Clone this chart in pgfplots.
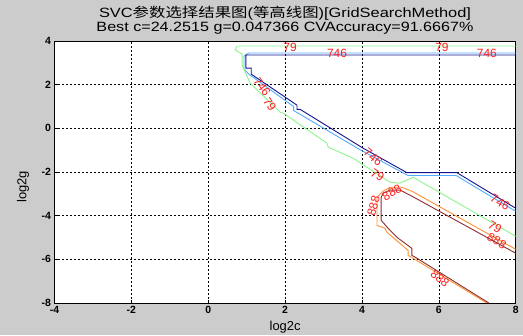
\documentclass[border=0pt]{standalone}
\usepackage{pgfplots}
\pgfplotsset{compat=1.18}
\usepackage{fontspec}
\setmainfont{Liberation Sans}
\newfontfamily\cjk{Noto Sans CJK SC}
\usepackage{graphicx}
\definecolor{figgray}{RGB}{204,204,204}
\definecolor{navyc}{RGB}{20,20,140}
\definecolor{lblue}{RGB}{80,170,255}
\definecolor{lgreen}{RGB}{140,245,140}
\definecolor{orangec}{RGB}{255,145,50}
\definecolor{brownc}{RGB}{140,45,45}
\definecolor{labred}{RGB}{255,30,30}
\begin{document}
\begin{tikzpicture}[x=1bp,y=1bp]
\useasboundingbox (0,0) rectangle (523,335);
\fill[figgray] (0,0) rectangle (523,335);
\node[font=\fontsize{13.5}{15}\selectfont, inner sep=0pt] at (285,322) {\scalebox{1.22}[1]{SVC{\cjk 参数选择结果图}({\cjk 等高线图})[GridSearchMethod]}};
\node[font=\fontsize{13.5}{15}\selectfont, inner sep=0pt] at (285,307) {\scalebox{1.2}[1]{Best c=24.2515 g=0.047366 CVAccuracy=91.6667\%}};
\begin{axis}[
  at={(54.5bp,32bp)}, anchor=south west,
  scale only axis, width=461.2bp, height=262bp,
  xmin=-4, xmax=8, ymin=-8, ymax=4,
  xtick={-4,-2,...,8}, ytick={-8,-6,...,4},
  grid=major,
  grid style={black, dash pattern=on 2pt off 2pt, line width=0.5pt},
  axis line style={black, line width=0.8pt},
  tick align=inside, major tick length=3bp,
  tick style={black, line width=0.6pt},
  axis background/.style={fill=white},
  tick label style={font=\bfseries\fontsize{10.5}{12}\selectfont},
  /pgf/number format/assume math mode=true,
  xlabel={log2c}, ylabel={log2g},
  label style={font=\fontsize{13}{15}\selectfont},
  ylabel style={at={(axis description cs:-0.068,0.443)}, anchor=center},
  xlabel style={at={(axis description cs:0.5,-0.094)}, anchor=center},
  every axis plot/.append style={line width=0.9pt},
  clip=true,
]
% light blue
\addplot[lblue] coordinates {(8,3.45) (1.05,3.45) (0.93,3.30) (0.93,2.70) (1.08,2.45) (2.22,1.0) (2.22,0.82) (3.95,-0.98) (5.2,-2.16) (6.45,-2.16) (8,-3.8)};
% navy
\addplot[navyc] coordinates {(8,3.36) (0.98,3.36) (0.98,2.76) (1.12,2.76) (1.12,2.48) (2.31,1.06) (2.31,0.87) (2.39,0.87) (4.03,-0.91) (5.17,-2.03) (6.47,-2.03) (8,-3.66)};
% green
\addplot[lgreen] coordinates {(8,3.77) (0.75,3.77) (0.70,3.59) (0.88,3.40) (0.88,2.90) (1.09,2.07) (1.87,0.74) (1.95,0.70) (3.09,-0.68) (3.12,-0.86) (3.77,-1.37) (4.73,-2.47) (4.99,-2.51) (5.33,-2.24) (8,-4.94)};
% orange
\addplot[orangec] coordinates {(8,-5.54) (5.30,-2.88) (5.04,-2.70) (4.73,-2.70) (4.55,-2.88) (4.39,-3.16) (4.39,-4.44) (4.60,-4.58) (4.65,-4.76) (5.20,-5.59) (5.20,-5.82) (5.33,-5.95) (7.25,-8)};
% brown
\addplot[brownc] coordinates {(8,-5.72) (5.25,-3.06) (4.99,-2.83) (4.73,-2.83) (4.55,-2.97) (4.50,-3.16) (4.50,-4.21) (4.68,-4.58) (4.91,-4.99) (5.30,-5.50) (5.30,-5.82) (5.43,-5.95) (7.30,-8)};
% labels
\begin{scope}[every node/.style={text=labred, font=\fontsize{12}{13}\selectfont, inner sep=0pt}]
\node at (axis cs:2.13,3.72) {79};
\node at (axis cs:6.08,3.72) {79};
\node at (axis cs:3.35,3.45) {746};
\node at (axis cs:7.25,3.45) {746};
\node[rotate=-55] at (axis cs:1.40,1.90) {746};
\node[rotate=-55] at (axis cs:1.60,1.10) {79};
\node[rotate=-40] at (axis cs:4.29,-1.32) {746};
\node[rotate=-30] at (axis cs:4.40,-2.15) {79};
\node[rotate=-30] at (axis cs:7.59,-3.39) {746};
\node[rotate=-30] at (axis cs:7.46,-4.53) {79};
\node[rotate=-30] at (axis cs:7.51,-5.15) {888};
\node[rotate=-40] at (axis cs:6.03,-6.87) {888};
\node[rotate=30] at (axis cs:4.78,-2.95) {888};
\node[rotate=75] at (axis cs:4.30,-3.55) {888};
\end{scope}
\end{axis}
\end{tikzpicture}
\end{document}
